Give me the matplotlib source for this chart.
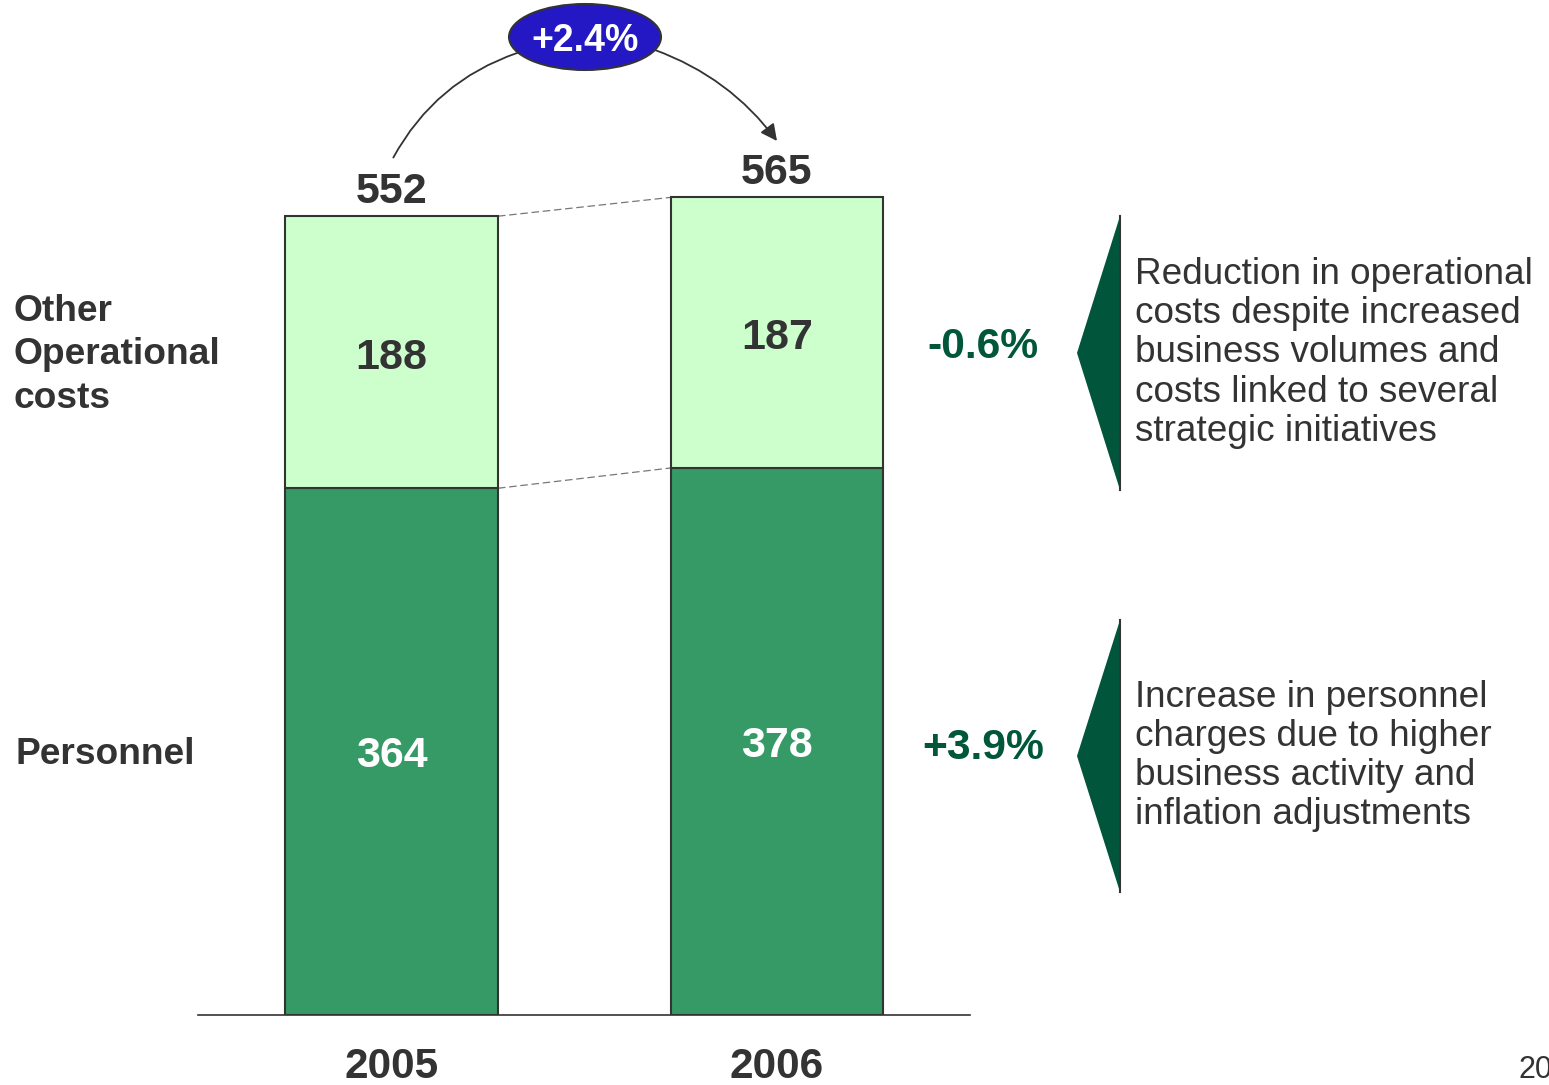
import matplotlib.pyplot as plt
from matplotlib.patches import Ellipse, Polygon, FancyArrowPatch

plt.rcParams['font.family'] = ['Liberation Sans', 'DejaVu Sans']

years = ['2005', '2006']
personnel = [364, 378]
other_costs = [188, 187]
totals = [552, 565]
growth_total = '+2.4%'
growth_other = '-0.6%'
growth_personnel = '+3.9%'
note_other = 'Reduction in operational\ncosts despite increased\nbusiness volumes and\ncosts linked to several\nstrategic initiatives'
note_personnel = 'Increase in personnel\ncharges due to higher\nbusiness activity and\ninflation adjustments'

dark_green = '#359A66'
light_green = '#CCFFCC'
text_grey = '#333333'
pct_green = '#00573A'

W, H = 1549, 1085
fig = plt.figure(figsize=(W / 100, H / 100), dpi=100)

# bar axes: baseline at y=1015px, spans x 198..970px
ax = fig.add_axes([198 / W, (H - 1015) / H, (970 - 198) / W, 1015 / H])
ax.set_xlim(-0.502, 1.5007)
ax.set_ylim(0, 701.4)
ax.axis('off')
ax.plot([-0.502, 1.5007], [0, 0], color=text_grey, lw=1.2, clip_on=False)

x = [0, 1]
bw = 0.5525
ax.bar(x, personnel, width=bw, color=dark_green, edgecolor=text_grey, lw=1.5, zorder=2)
ax.bar(x, other_costs, width=bw, bottom=personnel, color=light_green,
       edgecolor=text_grey, lw=1.5, zorder=2)

# dashed connectors between the bars
for lvl in [personnel, totals]:
    ax.plot([x[0] + bw / 2, x[1] - bw / 2], lvl, color='#777777', lw=0.9,
            ls=(0, (6, 3)), zorder=1)

for i in range(2):
    ax.text(x[i], personnel[i] / 2 - 3, str(personnel[i]), ha='center', va='center',
            fontsize=31, fontweight='bold', color='white')
    ax.text(x[i], personnel[i] + other_costs[i] / 2 - 4, str(other_costs[i]), ha='center',
            va='center', fontsize=31, fontweight='bold', color=text_grey)
    ax.text(x[i], totals[i] + 17, str(totals[i]), ha='center', va='center',
            fontsize=31, fontweight='bold', color=text_grey)
    ax.text(x[i], -36, years[i], ha='center', va='center',
            fontsize=30.5, fontweight='bold', color=text_grey)

# overlay in pixel coordinates for the annotations
ov = fig.add_axes([0, 0, 1, 1])
ov.set_xlim(0, W)
ov.set_ylim(H, 0)
ov.axis('off')
ov.patch.set_alpha(0)

ov.add_patch(Ellipse((585, 37), 152, 66, facecolor='#2318C4', edgecolor=text_grey, lw=1.5))
ov.text(585, 41, growth_total, ha='center', va='center', fontsize=27,
        fontweight='bold', color='white')

ov.add_patch(FancyArrowPatch((392, 160), (520, 52), connectionstyle='arc3,rad=-0.2',
                             arrowstyle='-', color=text_grey, lw=1.3))
ov.add_patch(FancyArrowPatch((655, 50), (777, 141), connectionstyle='arc3,rad=-0.15',
                             arrowstyle='-|>,head_length=10,head_width=5',
                             color=text_grey, lw=1.3, shrinkA=0, shrinkB=0))

ov.text(14, 355, 'Other\nOperational\ncosts', ha='left', va='center', fontsize=26.7,
        fontweight='bold', color=text_grey, linespacing=1.32)
ov.text(16, 754, 'Personnel', ha='left', va='center', fontsize=26.7,
        fontweight='bold', color=text_grey)

ov.text(983, 347, growth_other, ha='center', va='center', fontsize=30.7,
        fontweight='bold', color=pct_green)
ov.text(983, 748, growth_personnel, ha='center', va='center', fontsize=30.7,
        fontweight='bold', color=pct_green)

for top, bot, note in [(216, 490, note_other), (620, 892, note_personnel)]:
    mid = (top + bot) / 2
    ov.add_patch(Polygon([(1120, top), (1077, mid), (1120, bot)], closed=True,
                         facecolor='#00553A', edgecolor='none'))
    ov.plot([1120, 1120], [top, bot], color=text_grey, lw=1.5)
    ov.text(1135, mid, note, ha='left', va='center', fontsize=26.6,
            color=text_grey, linespacing=1.16)

ov.text(1519, 1070, '20', ha='left', va='center', fontsize=22, color=text_grey)

fig.savefig('out.png', dpi=100)
